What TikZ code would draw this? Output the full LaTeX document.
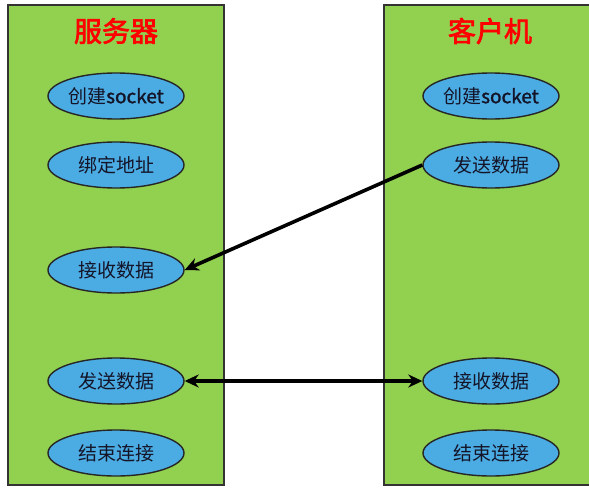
\documentclass[tikz,border=0pt]{standalone}
\usepackage{fontspec}
\newfontfamily\cjk{Noto Sans CJK SC}
\newfontfamily\cjkb{Noto Sans CJK SC}[FakeBold=2.5]
\newfontfamily\latb{Noto Sans CJK SC}[FakeBold=1.5]
\usetikzlibrary{shapes.geometric,arrows.meta}
\definecolor{panelgreen}{HTML}{92D050}
\definecolor{ellblue}{HTML}{4BACE3}
\definecolor{txtdark}{HTML}{141428}
\tikzset{
  panel/.style={draw=black!80, line width=1.2pt, fill=panelgreen},
  op/.style={ellipse, draw=black!85, line width=1.4pt, fill=ellblue, minimum width=136pt, minimum height=46pt, inner sep=0pt, font=\cjk\fontsize{19}{21}\selectfont, text=txtdark},
  ttl/.style={font=\cjkb\fontsize{28}{30}\selectfont, text=red},
  conn/.style={line width=3.6pt, black, -{Stealth[length=14pt,width=13pt]}},
}
\begin{document}
\begin{tikzpicture}[x=1pt,y=-1pt]
\useasboundingbox (0,0) rectangle (589,490);
\fill[white] (0,0) rectangle (589,490);
\draw[panel] (8,5) rectangle (224,485);
\draw[panel] (384,5) -- (591,5) -- (591,485) -- (384,485) -- cycle;
\node[ttl] (stitle) at (116,31) {服务器};
\node[ttl] (ctitle) at (490,31) {客户机};
\node[op] (s1) at (116,96) {创建{\latb socket}};
\node[op] (s2) at (116,165) {绑定地址};
\node[op] (s3) at (116,270) {接收数据};
\node[op] (s4) at (116,381) {发送数据};
\node[op] (s5) at (116,453) {结束连接};
\node[op] (c1) at (491,96) {创建{\latb socket}};
\node[op] (c2) at (491,165) {发送数据};
\node[op] (c3) at (491,381) {接收数据};
\node[op] (c4) at (491,453) {结束连接};
\draw[conn] (c2.west) -- (s3.east);
\draw[conn,{Stealth[length=14pt,width=13pt]}-{Stealth[length=14pt,width=13pt]}] (s4.east) -- (c3.west);
\end{tikzpicture}
\end{document}
